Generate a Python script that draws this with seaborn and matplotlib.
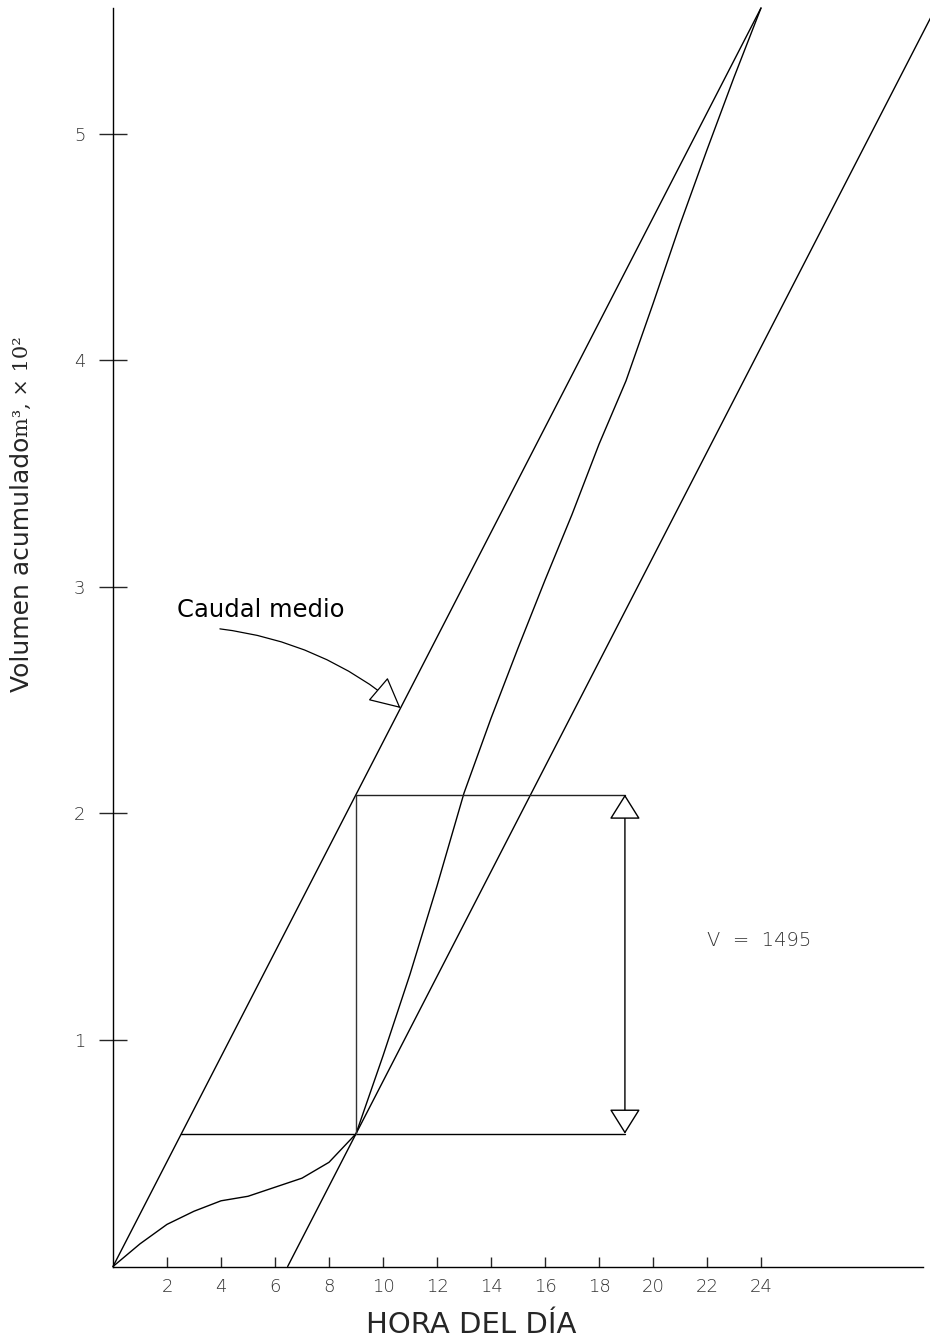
import matplotlib
matplotlib.use("Agg")
import matplotlib.pyplot as plt
import seaborn as sns
import pandas as pd
import numpy as np

# Accumulated inflow volume (m3 x 10^2) for each hour of the day
hours = [0, 1, 2, 3, 4, 5, 6, 7, 8, 9, 10, 11, 12, 13, 14, 15, 16, 17, 18, 19, 20, 21, 22, 23, 24]
volume = [0.0, 0.10, 0.186, 0.244, 0.29, 0.31, 0.35, 0.39, 0.46, 0.586, 0.93, 1.29, 1.68, 2.09,
          2.42, 2.73, 3.03, 3.32, 3.63, 3.91, 4.25, 4.60, 4.93, 5.25, 5.556]

# Mean-flow line: straight from the origin to the daily total
mean_hours = [0, 24]
mean_volume = [0.0, 5.556]

# Tangent point of the parallel line and the box that measures storage
tangent_hour = 9
box_right = 18.96
storage_label = "V  =  1495"

x_ticks = [2, 4, 6, 8, 10, 12, 14, 16, 18, 20, 22, 24]
y_ticks = [1, 2, 3, 4, 5]

sns.set_style("ticks")
plt.rcParams["font.family"] = ["DejaVu Sans"]

W, H = 930, 1344
fig = plt.figure(figsize=(W / 100, H / 100), dpi=100)
x0, x1 = 113, 923
y0, y1 = 1266.5, 8
ax = fig.add_axes([x0 / W, (H - y0) / H, (x1 - x0) / W, (y0 - y1) / H])
ax.set_xlim(0, 30)
ax.set_ylim(0, 5.556)

line_kw = dict(color="black", linewidth=1.0, estimator=None, sort=False, legend=False)

# Cumulative volume curve
curve = pd.DataFrame({"hora": hours, "vol": volume})
sns.lineplot(data=curve, x="hora", y="vol", ax=ax, **line_kw)

# Mean flow line
mean_df = pd.DataFrame({"hora": mean_hours, "vol": mean_volume})
sns.lineplot(data=mean_df, x="hora", y="vol", ax=ax, **line_kw)

slope = mean_volume[1] / mean_hours[1]
v_tan = volume[hours.index(tangent_hour)]

# Line parallel to the mean flow through the tangent point
x_start = tangent_hour - v_tan / slope
x_end = tangent_hour + (5.556 - v_tan) / slope
par = pd.DataFrame({"hora": [x_start, x_end], "vol": [0.0, 5.556]})
sns.lineplot(data=par, x="hora", y="vol", ax=ax, **line_kw)
for ln in ax.lines:
    ln.set_clip_on(False)

# Storage box
v_top = slope * tangent_hour
ax.plot([v_tan / slope, box_right], [v_tan, v_tan], color="black", lw=1.0)
ax.plot([tangent_hour, box_right], [v_top, v_top], color="#222222", lw=1.0)
ax.plot([tangent_hour, tangent_hour], [v_tan, v_top], color="#333333", lw=1.0)

# Double arrow showing the required volume
ax.annotate("", xy=(box_right, v_top), xytext=(box_right, v_tan),
            arrowprops=dict(arrowstyle="<|-|>,head_length=0.8,head_width=0.5",
                            mutation_scale=20, fc="white", ec="black", lw=1.0,
                            shrinkA=0, shrinkB=0))
ax.text(22.0, 1.44, storage_label, fontsize=14, color="#333333",
        fontweight="light", va="center", ha="left")

# Mean flow annotation
tip_x = 10.65
ax.annotate("", xy=(tip_x, slope * tip_x), xytext=(3.96, 2.815),
            arrowprops=dict(arrowstyle="-|>,head_length=0.9,head_width=0.45",
                            mutation_scale=22, fc="white", ec="black", lw=0.9,
                            shrinkA=0, shrinkB=0,
                            connectionstyle="arc3,rad=-0.15"))
ax.text(2.37, 2.90, "Caudal medio", fontsize=17.5, color="black", va="center", ha="left")

# Axes styling
sns.despine(ax=ax)
for s in ("left", "bottom"):
    ax.spines[s].set_linewidth(1.0)
    ax.spines[s].set_color("black")
ax.set_xticks(x_ticks)
ax.set_yticks(y_ticks)
ax.set_xticklabels([str(t) for t in x_ticks])
ax.set_yticklabels([str(t) for t in y_ticks])
ax.tick_params(axis="x", direction="in", length=7.5, width=1.0, pad=8,
               labelsize=13, labelcolor="#333333")
ax.tick_params(axis="y", direction="inout", length=19.5, width=1.0, pad=10,
               labelsize=13, labelcolor="#333333")
for lab in ax.get_xticklabels() + ax.get_yticklabels():
    lab.set_fontweight("light")
ax.set_xlabel("")
ax.set_ylabel("")

# Axis titles
fig.text(471 / W, 1 - 1325 / H, "HORA DEL DÍA", fontsize=21, ha="center", va="center")
fig.text(22 / W, 1 - 692 / H, "Volumen acumulado", fontsize=18, rotation=90,
         ha="center", va="bottom")
fig.text(22 / W, 1 - 336 / H, "m³, × 10²", fontsize=15, rotation=90,
         ha="center", va="top", family="DejaVu Serif")

fig.savefig("out.png", dpi=100, facecolor="white")
